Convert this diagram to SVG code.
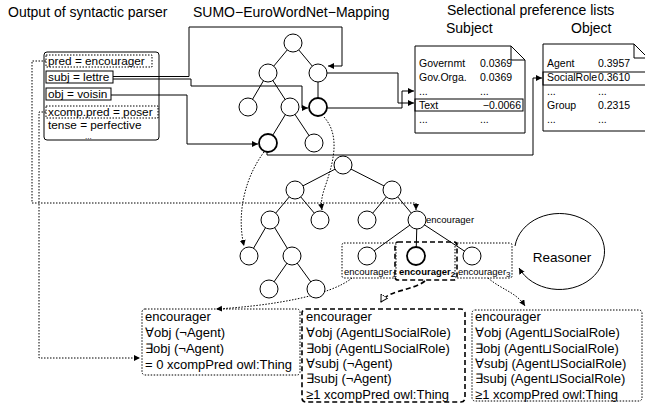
<svg xmlns="http://www.w3.org/2000/svg" width="645" height="405" viewBox="0 0 645 405">
<style>
text{font-family:"Liberation Sans",Arial,sans-serif;fill:#000}
.h{font-size:14px}
.t{font-size:11.8px}
.d{font-size:10.5px}
.b{font-size:13px}
.s{font-size:9.5px}
.n{fill:#fff;stroke:#000;stroke-width:1}
.nb{fill:#fff;stroke:#000;stroke-width:1.8}
.e{stroke:#000;stroke-width:1;fill:none}
.ln{stroke:#000;stroke-width:1;fill:none}
.dot{stroke:#000;stroke-width:1;fill:none;stroke-dasharray:1.5 1.5}
.dash{stroke:#000;stroke-width:1.6;fill:none;stroke-dasharray:5 3}
</style>
<defs>
<marker id="ar" markerUnits="userSpaceOnUse" markerWidth="8" markerHeight="8" refX="6" refY="3" orient="auto"><path d="M0,0 L6,3 L0,6 Z" fill="#000"/></marker>
<marker id="ao" markerUnits="userSpaceOnUse" markerWidth="10" markerHeight="10" refX="7" refY="4" orient="auto"><path d="M0,0 L7,4 L0,8 Z" fill="#fff" stroke="#000" stroke-width="1"/></marker>
</defs>

<g id="headings">
<text class="h" x="8" y="17">Output of syntactic parser</text>
<text class="h" x="193" y="17">SUMO−EuroWordNet−Mapping</text>
<text class="h" x="447" y="15">Selectional preference lists</text>
<text class="h" x="446" y="33">Subject</text>
<text class="h" x="571" y="33">Object</text>
</g>

<g id="parser">
<rect x="44" y="52" width="115" height="88" rx="3" fill="#fff" stroke="#000"/>
<rect x="46" y="55" width="106" height="12" class="dot"/>
<text class="t" x="48" y="65">pred = encourager</text>
<rect x="46" y="71" width="67" height="12" class="ln"/>
<text class="t" x="48" y="81">subj = lettre</text>
<rect x="46" y="88" width="65" height="12" class="ln"/>
<text class="t" x="48" y="98">obj = voisin</text>
<rect x="46" y="106" width="112" height="12" class="dot"/>
<text class="t" x="48" y="116">xcomp.pred = poser</text>
<text class="t" x="48" y="129">tense = perfective</text>
<text x="85" y="139" style="font-size:8px">...</text>
</g>

<g id="subject-list">
<path d="M415,46 H511 L525,60 V133 H415 Z" fill="#fff" stroke="#000"/>
<path d="M511,46 V60 H525" class="ln"/>
<rect x="415" y="99" width="108" height="12" class="ln"/>
<text class="d" x="419" y="67">Governmt</text><text class="d" x="480" y="67">0.0369</text>
<text class="d" x="419" y="81">Gov.Orga.</text><text class="d" x="480" y="81">0.0369</text>
<text class="d" x="419" y="95">...</text><text class="d" x="480" y="95">...</text>
<text class="d" x="419" y="109">Text</text><text class="d" x="521" y="109" text-anchor="end">−0.0066</text>
<text class="d" x="419" y="123">...</text><text class="d" x="480" y="123">...</text>
</g>

<g id="object-list">
<path d="M543,44 H634 L648,58 V131 H543 Z" fill="#fff" stroke="#000"/>
<path d="M634,44 V58 H648" class="ln"/>
<rect x="543" y="72" width="110" height="13" class="ln"/>
<text class="d" x="547" y="67">Agent</text><text class="d" x="598" y="67">0.3957</text>
<text class="d" x="547" y="81">SocialRole</text><text class="d" x="598" y="81">0.3610</text>
<text class="d" x="547" y="95">...</text><text class="d" x="598" y="95">...</text>
<text class="d" x="547" y="109">Group</text><text class="d" x="598" y="109">0.2315</text>
<text class="d" x="547" y="123">...</text><text class="d" x="598" y="123">...</text>
</g>

<g id="connectors">
<path class="e" d="M293,43 L268,73 M293,43 L318,73 M268,73 L248,107 M268,73 L290,107 M318,73 L318,107 M290,107 L268,143 M290,107 L314,143"/>
<path class="e" d="M343,165 L295,190 M343,165 L392,190 M295,190 L270,220 M295,190 L320,220 M392,190 L367,220 M392,190 L417,220 M270,220 L249,256 M270,220 L292,256 M292,256 L269,289 M292,256 L316,289 M417,220 L367,256 M417,220 L416,256 M417,220 L472,256"/>
<path class="ln" d="M113,76.5 H189 V27 H342 V66 H328" marker-end="url(#ar)"/>
<path class="ln" d="M113,79 H191 V86 H302 V108 H308" marker-end="url(#ar)"/>
<path class="ln" d="M111,95 H187 V144 H258" marker-end="url(#ar)"/>
<path class="ln" d="M327,73 H398 V103 H414" marker-end="url(#ar)"/>
<path class="ln" stroke-width="1.4" d="M327,108 H402 V91 H414" marker-end="url(#ar)"/>
<path class="ln" stroke-width="1.8" d="M267,152 V155 H533 V78 H542" marker-end="url(#ar)"/>
<path class="dot" d="M46,61 H32 V203 H416 V210" marker-end="url(#ar)"/>
<path class="dot" d="M46,112 H39 V358 H140" marker-end="url(#ar)"/>
<path class="dot" d="M264,152 C246,176 236,212 244,246" marker-end="url(#ar)"/>
<path class="dot" d="M324,117 C340,135 334,160 326,184 C321,198 321,203 322,210" marker-end="url(#ar)"/>
<path class="dot" d="M352,278 C330,296 270,306 216,309" marker-end="url(#ar)"/>
<path class="dash" d="M425,281 C412,291 388,290 381,302" marker-end="url(#ao)"/>
<path class="dot" d="M488,278 C502,290 516,292 525,306" marker-end="url(#ar)"/>
<path class="ln" d="M515,246 A45,38 0 1 1 519,268" marker-end="url(#ar)"/>
</g>

<g id="sumo-tree">
<circle class="n" cx="293" cy="43" r="9"/>
<circle class="n" cx="268" cy="73" r="9"/>
<circle class="n" cx="318" cy="73" r="9"/>
<circle class="n" cx="248" cy="107" r="9"/>
<circle class="n" cx="290" cy="107" r="9"/>
<circle class="nb" cx="318" cy="107" r="9"/>
<circle class="nb" cx="268" cy="143" r="9"/>
<circle class="n" cx="314" cy="143" r="9"/>
</g>

<g id="parse-tree">
<circle class="n" cx="343" cy="165" r="9"/>
<circle class="n" cx="295" cy="190" r="9"/>
<circle class="n" cx="392" cy="190" r="9"/>
<circle class="n" cx="270" cy="220" r="9"/>
<circle class="n" cx="320" cy="220" r="9"/>
<circle class="n" cx="367" cy="220" r="9"/>
<circle class="n" cx="417" cy="220" r="9"/>
<text class="s" x="426" y="223">encourager</text>
<circle class="n" cx="249" cy="256" r="9"/>
<circle class="n" cx="292" cy="256" r="9"/>
<circle class="n" cx="269" cy="289" r="9"/>
<circle class="n" cx="316" cy="289" r="9"/>
</g>

<g id="sense1">
<rect x="342" y="243" width="54" height="35" rx="2" class="dot"/>
<circle class="n" cx="367" cy="256" r="9"/>
<text class="s" x="344" y="275">encourager<tspan font-size="8" dy="2">1</tspan></text>
</g>
<g id="sense2">
<rect x="395" y="242" width="62" height="38" rx="3" class="dash"/>
<circle class="nb" cx="416" cy="256" r="9"/>
<text class="s" x="399" y="275" font-weight="bold">encourager<tspan font-size="8" dy="2">2</tspan></text>
</g>
<g id="sense3">
<rect x="455" y="243" width="57" height="35" rx="2" class="dot"/>
<circle class="n" cx="472" cy="256" r="9"/>
<text class="s" x="458" y="275">encourager<tspan font-size="8" dy="2">3</tspan></text>
</g>

<g id="reasoner">
<text x="562" y="262" text-anchor="middle" style="font-size:13.5px">Reasoner</text>
</g>

<g id="desc1">
<rect x="142" y="309" width="158" height="66" rx="3" class="dot"/>
<text class="b" x="145" y="321">encourager</text>
<text class="b" x="145" y="337">∀obj (¬Agent)</text>
<text class="b" x="145" y="353">∃obj (¬Agent)</text>
<text class="b" x="145" y="369">= 0 xcompPred owl:Thing</text>
</g>
<g id="desc2">
<rect x="302" y="309" width="163" height="93" rx="4" class="dash"/>
<text class="b" x="306" y="321">encourager</text>
<text class="b" x="306" y="337">∀obj (Agent⊔SocialRole)</text>
<text class="b" x="306" y="353">∃obj (Agent⊔SocialRole)</text>
<text class="b" x="306" y="368">∀subj (¬Agent)</text>
<text class="b" x="306" y="383">∃subj (¬Agent)</text>
<text class="b" x="306" y="399">≥1 xcompPred owl:Thing</text>
</g>
<g id="desc3">
<rect x="472" y="310" width="170" height="91" rx="3" class="dot"/>
<text class="b" x="475" y="321">encourager</text>
<text class="b" x="475" y="337">∀obj (Agent⊔SocialRole)</text>
<text class="b" x="475" y="353">∃obj (Agent⊔SocialRole)</text>
<text class="b" x="475" y="368">∀subj (Agent⊔SocialRole)</text>
<text class="b" x="475" y="383">∃subj (Agent⊔SocialRole)</text>
<text class="b" x="475" y="399">≥1 xcompPred owl:Thing</text>
</g>
</svg>
